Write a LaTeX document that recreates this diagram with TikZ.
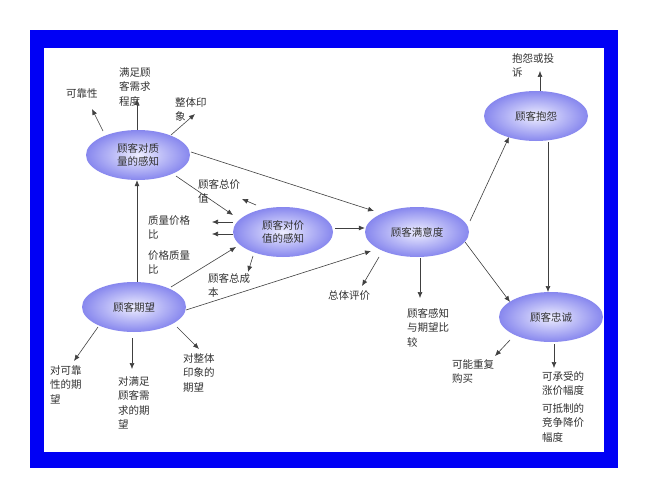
\documentclass[tikz,border=0pt]{standalone}
\usepackage{fontspec}
\setmainfont{Noto Sans CJK SC}
\usetikzlibrary{arrows.meta,shapes.geometric}
\definecolor{frameblue}{RGB}{0,0,245}
\definecolor{txt}{RGB}{50,50,50}
\definecolor{bubin}{RGB}{238,238,255}
\definecolor{bubout}{RGB}{135,135,238}
\tikzset{
  bub/.style={ellipse,minimum width=104pt,minimum height=50pt,inner sep=0pt,
    inner color=bubin,outer color=bubout,
    font=\fontsize{10.5}{13}\selectfont,text=txt,align=center},
  lab/.style={anchor=north west,inner sep=0pt,align=left,text=txt,
    font=\fontsize{10.5}{14.5}\selectfont},
  arr/.style={draw=black!75,line width=0.6pt,-{Latex[length=6pt,width=5pt]}},
}
\begin{document}
\begin{tikzpicture}[x=1pt,y=-1pt]
\useasboundingbox (0,0) rectangle (647,500);
\fill[frameblue] (30,30) rectangle (618,468);
\fill[white] (44,48) rectangle (604,452);
\node[bub] (Q) at (138,155) {顾客对质\\量的感知};
\node[bub,minimum width=100pt] (V) at (283,232) {顾客对价\\值的感知};
\node[bub] (S) at (417,232) {顾客满意度};
\node[bub] (C) at (536,116) {顾客抱怨};
\node[bub] (L) at (551,317) {顾客忠诚};
\node[bub] (E) at (134,307) {顾客期望};
% labels
\node[lab] (l1) at (66,88) {可靠性};
\node[lab] (l2) at (119,67) {满足顾\\客需求\\程度};
\node[lab] (l3) at (175,97) {整体印\\象};
\node[lab] (l4) at (198,179) {顾客总价\\值};
\node[lab] (l5) at (148,215) {质量价格\\比};
\node[lab] (l6) at (148,250) {价格质量\\比};
\node[lab] (l7) at (208,273) {顾客总成\\本};
\node[lab] (l8) at (328,290) {总体评价};
\node[lab] (l9) at (407,308) {顾客感知\\与期望比\\较};
\node[lab] (l10) at (512,53) {抱怨或投\\诉};
\node[lab] (l11) at (452,359) {可能重复\\购买};
\node[lab] (l12) at (542,371) {可承受的\\涨价幅度};
\node[lab] (l13) at (542,403) {可抵制的\\竞争降价\\幅度};
\node[lab] (l14) at (50,365) {对可靠\\性的期\\望};
\node[lab] (l15) at (118,376) {对满足\\顾客需\\求的期\\望};
\node[lab] (l16) at (183,353) {对整体\\印象的\\期望};
% free ends
\coordinate (a1) at (92,109);
\coordinate (a2) at (137,99);
\coordinate (a3) at (195,114);
\coordinate (a4) at (242,199);
\coordinate (a5) at (212,222);
\coordinate (a6) at (212,234);
\coordinate (a7) at (248,272);
\coordinate (a8) at (362,286);
\coordinate (a9) at (420,298);
\coordinate (a10) at (540,71);
\coordinate (a11) at (495,356);
\coordinate (a12) at (554,368);
\coordinate (a13) at (74,361);
\coordinate (a14) at (132,369);
\coordinate (a15) at (199,349);
% connectors
\draw[arr] (103,131) -- (a1);
\draw[arr] (137,130) -- (a2);
\draw[arr] (171,135) -- (a3);
\draw[arr] (176,176) -- (233,215);
\draw[arr] (256,205) -- (a4);
\draw[arr] (233,222) -- (a5);
\draw[arr] (233,234) -- (a6);
\draw[arr] (E.north -| 137,0) -- (Q.south -| 137,0);
\draw[arr] (171,287) -- (236,247);
\draw[arr] (253,256) -- (a7);
\draw[arr] (186,310) -- (371,251);
\draw[arr] (191,152) -- (374,211);
\draw[arr] (335,228) -- (S.west |- 0,228);
\draw[arr] (379,257) -- (a8);
\draw[arr] (420,258) -- (a9);
\draw[arr] (470,221) -- (509,137);
\draw[arr] (465,242) -- (510,302);
\draw[arr] (548,142) -- (548,292);
\draw[arr] (540,91) -- (a10);
\draw[arr] (510,340) -- (a11);
\draw[arr] (554,344) -- (a12);
\draw[arr] (98,327) -- (a13);
\draw[arr] (132,338) -- (a14);
\draw[arr] (177,327) -- (a15);
\end{tikzpicture}
\end{document}
